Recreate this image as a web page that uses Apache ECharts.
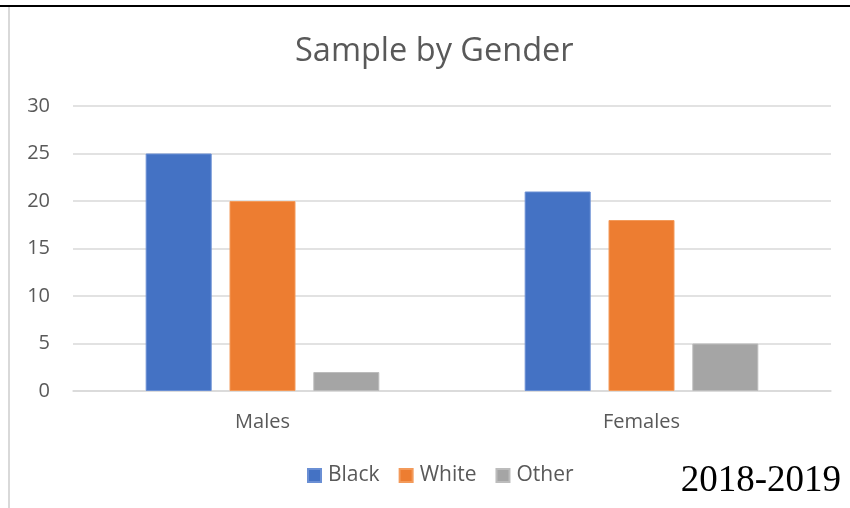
<!DOCTYPE html>
<html>
<head>
<meta charset="utf-8">
<script src="https://cdn.jsdelivr.net/npm/echarts@6/dist/echarts.min.js"></script>
<style>
  html, body { margin: 0; padding: 0; background: #fff; }
  #chart { width: 850px; height: 508px; }
</style>
</head>
<body>
<div id="chart"></div>
<script>
// Sample counts by gender and race
const categories = ['Males', 'Females'];
const seriesNames = ['Black', 'White', 'Other'];
const black = [25, 21];
const white = [20, 18];
const other = [2, 5];
const yTicks = { min: 0, max: 30, step: 5 };

const colors = ['#4472C4', '#ED7D31', '#A5A5A5'];
const edgeColors = ['#6a8fd4', '#f39a5a', '#bcbcbc'];
const labelFont = '"Open Sans", Lato, sans-serif';

const chart = echarts.init(document.getElementById('chart'), null, { renderer: 'canvas' });

const makeSeries = (name, data, i) => ({
  name: name,
  type: 'bar',
  data: data,
  barWidth: 66,
  barGap: '27%',
  itemStyle: { color: colors[i], borderColor: edgeColors[i], borderWidth: 1 },
  emphasis: { disabled: true }
});

chart.setOption({
  animation: false,
  color: colors,
  title: [
    {
      text: 'Sample by Gender',
      left: 290,
      top: 30,
      textStyle: { fontFamily: labelFont, fontSize: 32.5, fontWeight: 'normal', color: '#595959' }
    },
    {
      text: '2018-2019',
      right: 4,
      top: 458,
      textStyle: { fontFamily: '"Liberation Serif", "Times New Roman", serif', fontSize: 37, fontWeight: 'normal', color: '#000' }
    }
  ],
  legend: {
    data: seriesNames,
    left: 302,
    top: 460,
    icon: 'rect',
    itemWidth: 13,
    itemHeight: 13,
    itemGap: 19,
    textStyle: { fontFamily: labelFont, fontSize: 21, color: '#595959', padding: [0, 0, 0, 2] }
  },
  grid: { left: 73, right: 19, top: 106, bottom: 117 },
  xAxis: {
    type: 'category',
    data: categories,
    axisLine: { show: true, lineStyle: { color: '#d9d9d9', width: 1.5 } },
    axisTick: { show: false },
    axisLabel: { fontFamily: labelFont, fontSize: 20, color: '#595959', margin: 21 }
  },
  yAxis: {
    type: 'value',
    min: yTicks.min,
    max: yTicks.max,
    interval: yTicks.step,
    axisLine: { show: false },
    axisTick: { show: false },
    splitLine: { lineStyle: { color: '#d9d9d9', width: 1.5 } },
    axisLabel: { fontFamily: labelFont, fontSize: 20, color: '#595959', margin: 23 }
  },
  series: [
    makeSeries(seriesNames[0], black, 0),
    makeSeries(seriesNames[1], white, 1),
    makeSeries(seriesNames[2], other, 2)
  ],
  graphic: [
    { type: 'rect', shape: { x: 0, y: 5, width: 850, height: 2 }, style: { fill: '#000' }, silent: true },
    { type: 'rect', shape: { x: 8, y: 7, width: 2, height: 501 }, style: { fill: '#d9d9d9' }, silent: true }
  ]
});
</script>
</body>
</html>
